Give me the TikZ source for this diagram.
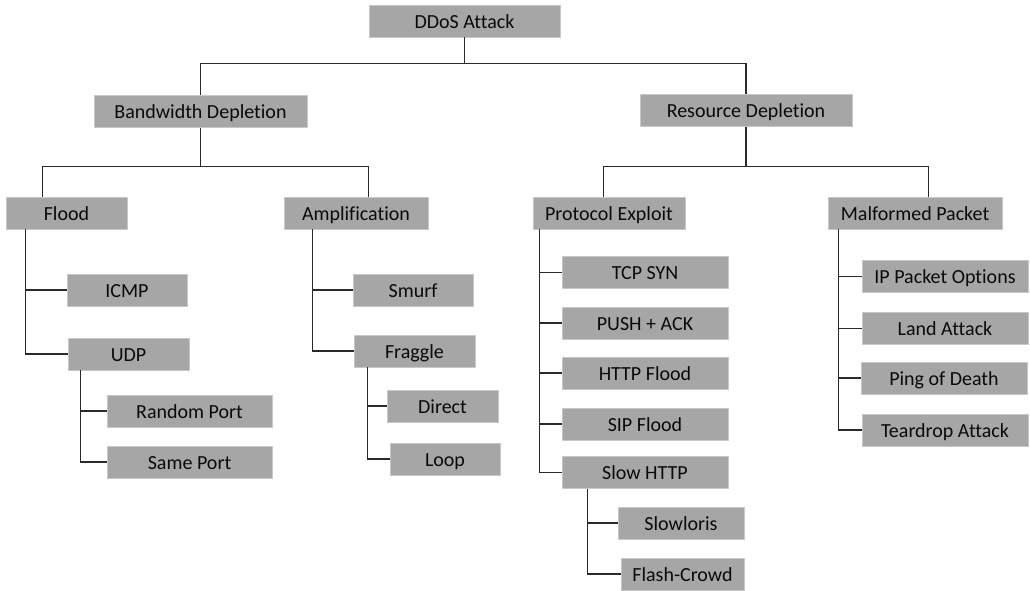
\documentclass[tikz,border=0pt]{standalone}
\usepackage{fontspec}
\setmainfont[Ligatures={NoCommon}]{Carlito}
\begin{document}
\begin{tikzpicture}[x=1pt,y=-1pt,
  box/.style={fill=boxgray,draw=boxedge,line width=0.6pt,minimum height=32pt,inner sep=0pt,
    text height=18pt,text depth=4pt,
    font=\fontsize{20}{24}\selectfont,text=textdark,anchor=center},
  link/.style={draw=linegray,line width=1.1pt}]
\definecolor{boxgray}{HTML}{A6A6A6}
\definecolor{boxedge}{HTML}{C8C8C8}
\definecolor{textdark}{HTML}{0A0A0A}
\definecolor{linegray}{HTML}{2A2A2A}
\useasboundingbox (0,0) rectangle (1030,590);
% level 0-1
\node[box,minimum width=191pt] (dd) at (464.5,21) {DDoS Attack};
\node[box,minimum width=213pt] (bd) at (200.5,111.5) {Bandwidth Depletion};
\node[box,minimum width=212pt] (rd) at (746,110.5) {Resource Depletion};
% level 2
\node[box,minimum width=121pt] (flood) at (66.5,213) {Flood};
\node[box,minimum width=144pt] (amp) at (356,213) {Amplification};
\node[box,minimum width=152pt] (pe) at (609,213) {Protocol Exploit};
\node[box,minimum width=174pt] (mp) at (915,213) {Malformed Packet};
% flood branch
\node[box,minimum width=120pt] (icmp) at (127,290) {ICMP};
\node[box,minimum width=121pt] (udp) at (128.5,354) {UDP};
\node[box,minimum width=165pt] (rport) at (189.5,411) {Random Port};
\node[box,minimum width=165pt] (sport) at (189.5,462) {Same Port};
% amplification branch
\node[box,minimum width=120pt] (smurf) at (413,290) {Smurf};
\node[box,minimum width=121pt] (fraggle) at (414.5,351) {Fraggle};
\node[box,minimum width=111pt] (direct) at (442.5,406) {Direct};
\node[box,minimum width=110pt] (loop) at (445,459) {Loop};
% protocol exploit branch
\node[box,minimum width=166pt] (tcp) at (645,272.5) {TCP SYN};
\node[box,minimum width=166pt] (push) at (645,323) {PUSH + ACK};
\node[box,minimum width=166pt] (http) at (645,373) {HTTP Flood};
\node[box,minimum width=166pt] (sip) at (645,424) {SIP Flood};
\node[box,minimum width=166pt] (slow) at (645,472.5) {Slow HTTP};
\node[box,minimum width=126pt] (slowloris) at (681,523) {Slowloris};
\node[box,minimum width=123pt] (flash) at (682.5,574) {Flash-Crowd};
% malformed packet branch
\node[box,minimum width=166pt] (ipo) at (945,276.5) {IP Packet Options};
\node[box,minimum width=166pt] (land) at (945,328.5) {Land Attack};
\node[box,minimum width=166pt] (ping) at (944,378) {Ping of Death};
\node[box,minimum width=166pt] (tear) at (945,430) {Teardrop Attack};
% connectors: top levels
\draw[link] (dd.south) -- ++(0,26) -| (bd.north);
\draw[link] (dd.south) -- ++(0,26) -| (rd.north);
\draw[link] (bd.south) -- ++(0,39) -| ([xshift=37pt]flood.north west);
\draw[link] (bd.south) -- ++(0,39) -| ([xshift=85pt]amp.north west);
\draw[link] (rd.south) -- ++(0,40) -| ([xshift=71pt]pe.north west);
\draw[link] (rd.south) -- ++(0,40) -| ([xshift=101pt]mp.north west);
% flood children
\draw[link] ([xshift=20pt]flood.south west) |- (icmp.west);
\draw[link] ([xshift=20pt]flood.south west) |- (udp.west);
\draw[link] ([xshift=13pt]udp.south west) |- (rport.west);
\draw[link] ([xshift=13pt]udp.south west) |- (sport.west);
% amplification children
\draw[link] ([xshift=29pt]amp.south west) |- (smurf.west);
\draw[link] ([xshift=29pt]amp.south west) |- (fraggle.west);
\draw[link] ([xshift=14pt]fraggle.south west) |- (direct.west);
\draw[link] ([xshift=14pt]fraggle.south west) |- (loop.west);
% protocol exploit children
\foreach \c in {tcp,push,http,sip,slow}
  \draw[link] ([xshift=7pt]pe.south west) |- (\c.west);
\draw[link] ([xshift=26pt]slow.south west) |- (slowloris.west);
\draw[link] ([xshift=26pt]slow.south west) |- (flash.west);
% malformed packet children
\foreach \c in {ipo,land,ping,tear}
  \draw[link] ([xshift=11pt]mp.south west) |- (\c.west);
\end{tikzpicture}
\end{document}
